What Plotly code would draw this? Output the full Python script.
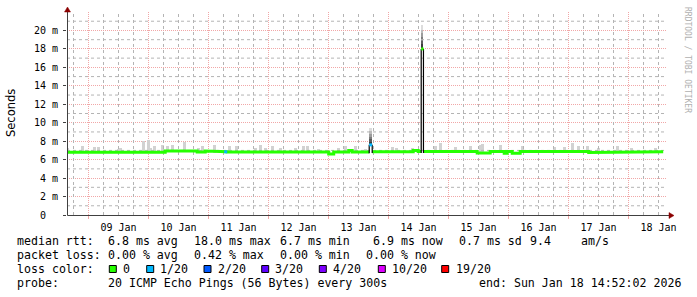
import plotly.graph_objects as go
import pandas as pd

# ---------------- data ----------------
data_t0 = pd.Timestamp("2026-01-08 15:05:00")   # hour offsets below are relative to this
x_start = pd.Timestamp("2026-01-08 15:24:00")
x_end = pd.Timestamp("2026-01-18 15:24:00")

# median rtt, run-length segments (hours from data_t0), value in ms, loss count (of 20)
seg_start = [0.4, 39.6, 52.4, 55.6, 57.6, 63.2, 64.4, 105.0, 107.0, 113.0, 114.4, 121.2,
             122.4, 138.8, 140.8, 142.0, 142.9, 164.4, 169.6, 175.2, 176.4, 178.4, 181.6,
             209.0, 223.0, 227.0, 235.0]
seg_end = [39.6, 52.4, 55.6, 57.6, 63.2, 64.4, 105.0, 107.0, 113.0, 114.4, 121.2, 122.4,
           138.8, 140.8, 142.0, 142.9, 164.4, 169.6, 175.2, 176.4, 178.4, 181.6, 209.0,
           223.0, 227.0, 235.0, 238.8]
seg_median = [6.79, 6.93, 6.83, 6.93, 6.85, 6.85, 6.84, 6.62, 6.84, 7.0, 6.84, 7.6,
              6.86, 7.0, 6.88, 18.0, 6.87, 6.72, 6.88, 6.7, 6.88, 6.7, 6.88,
              6.78, 6.86, 6.78, 6.86]
seg_loss = [0, 0, 0, 0, 0, 1, 0, 0, 0, 0, 0, 1,
            0, 0, 0, 0, 0, 0, 0, 0, 0, 0, 0,
            0, 0, 0, 0]

# light smoke (upper ping rtt) bumps: hour offset and top value in ms
bump_h = [0.4, 6.4, 11.2, 13.0, 20.8, 21.6, 30.8, 32.8, 33.8, 35.2, 38.4, 40.4, 42.4,
          47.2, 52.8, 54.4, 59.2, 65.2, 68.0, 75.6, 77.6, 79.6, 82.4, 85.6, 91.6, 94.8,
          96.4, 100.8, 108.8, 111.6, 115.6, 119.6, 130.4, 132.0, 138.4, 147.6, 149.6,
          155.6, 161.6, 165.6, 166.4, 173.6, 182.4, 195.2, 199.2, 202.4, 204.8, 208.4,
          213.0, 220.4, 226.0, 235.6]
bump_top = [7.28, 7.43, 7.32, 7.32, 7.2, 7.3, 8.0, 8.08, 7.3, 7.53, 7.64, 7.53, 7.64,
            7.9, 7.3, 7.43, 7.64, 7.43, 7.48, 7.3, 7.64, 7.3, 7.43, 7.3, 7.3, 7.46,
            7.46, 7.2, 7.3, 7.53, 7.53, 7.2, 7.35, 7.3, 7.3, 7.43, 7.75,
            7.37, 7.43, 7.64, 7.72, 7.64, 7.53, 7.37, 7.37, 7.8, 7.43, 7.43,
            7.3, 7.53, 7.3, 7.28]

# ping spread during the two spikes (ms)
spike1_pings = [7.7, 7.9, 8.2, 8.5, 8.8, 9.1, 9.4]
spike2_pings = [18.1, 18.5, 18.9, 19.3, 19.7, 20.1, 20.6]

y_tick_vals = [0, 2, 4, 6, 8, 10, 12, 14, 16, 18, 20]
y_tick_text = ["0\u00a0\u00a0", "2\u00a0m", "4\u00a0m", "6\u00a0m", "8\u00a0m", "10\u00a0m",
               "12\u00a0m", "14\u00a0m", "16\u00a0m", "18\u00a0m", "20\u00a0m"]
y_minor_vals = [1, 3, 5, 7, 9, 11, 13, 15, 17, 19, 21]

loss_labels = ["0", "1/20", "2/20", "3/20", "4/20", "10/20", "19/20"]
loss_hex = ["#26ff00", "#00b8ff", "#0059ff", "#5e00ff", "#7e00ff", "#dd00ff", "#ff0000"]
loss_map = {0: "#26ff00", 1: "#00b8ff", 2: "#0059ff", 3: "#5e00ff", 4: "#7e00ff",
            10: "#dd00ff", 19: "#ff0000"}

legend_line1 = [(16, "median rtt:"), (107.3, "6.8 ms avg"), (192.7, "18.0 ms max"),
                (279.3, "6.7 ms min"), (372.3, "6.9 ms now"), (458.3, "0.7 ms sd"),
                (529.3, "9.4"), (580, "am/s")]
legend_line2 = [(16, "packet loss:"), (107.3, "0.00 % avg"), (192.7, "0.42 % max"),
                (279.3, "0.00 % min"), (365.0, "0.00 % now")]
legend_line4 = [(16, "probe:"), (107.3, "20 ICMP Echo Pings (56 Bytes) every 300s"),
                (478.3, "end: Sun Jan 18 14:52:02 2026")]

# ---------------- layout geometry ----------------
W, H = 697, 297
ML, MR, MT, MB = 67, 30, 12, 82
PW, PH = W - ML - MR, H - MT - MB
Y_MAX = 22.0


def px(x):
    return (x - ML) / PW


def py(y):
    return (H - MB - y) / PH


def hx(h):
    return data_t0 + pd.to_timedelta(h, unit="h")


MONO = "DejaVu Sans Mono"
HOUR_MS = 3600 * 1000
MAJ = "rgba(225,60,60,0.45)"
MIN = "#b4b4b4"
DASH = "1px,1px"

fig = go.Figure()

# ---- minor grid as line traces (6-hourly vertical, 1 m horizontal) ----
vx, vy = [], []
for t in pd.date_range("2026-01-08 18:00", "2026-01-18 12:00", freq="6h"):
    if t.hour == 0:
        continue
    vx += [t, t, None]
    vy += [0, Y_MAX, None]
fig.add_trace(go.Scatter(x=vx, y=vy, mode="lines", line=dict(color=MIN, width=1, dash="dot"),
                         hoverinfo="skip", showlegend=False))
hxs, hys = [], []
for v in y_minor_vals:
    hxs += [x_start, x_end, None]
    hys += [v, v, None]
fig.add_trace(go.Scatter(x=hxs, y=hys, mode="lines", line=dict(color=MIN, width=1, dash="dot"),
                         hoverinfo="skip", showlegend=False))

# ---- smoke bumps ----
def median_at(h):
    for s, e, v in zip(seg_start, seg_end, seg_median):
        if s <= h < e:
            return v
    return seg_median[-1]

bases = [median_at(h) - 0.1 for h in bump_h]
fig.add_trace(go.Bar(
    x=[hx(h) for h in bump_h], y=[t - b for t, b in zip(bump_top, bases)], base=bases,
    width=[1.2 * HOUR_MS] * len(bump_h), marker=dict(color="#d2d2d2", line=dict(width=0)),
    hoverinfo="skip", showlegend=False))

# ---- spikes: identify and draw ping spread ----
n = len(seg_start)
is_spike = []
for i in range(n):
    nb = []
    if i > 0:
        nb.append(seg_median[i - 1])
    if i < n - 1:
        nb.append(seg_median[i + 1])
    is_spike.append(seg_median[i] - min(nb) > 0.5)

spike_idx = [i for i in range(n) if is_spike[i]]
for i, pings in zip(spike_idx, [spike1_pings, spike2_pings]):
    s, e = seg_start[i], seg_end[i]
    lows = pings[:-1]
    highs = pings[1:]
    k = len(lows)
    shades = []
    for j in range(k):
        g = int(60 + (220 - 60) * j / max(k - 1, 1))
        shades.append(f"rgb({g},{g},{g})")
    fig.add_trace(go.Bar(
        x=[hx((s + e) / 2)] * k, y=[hi - lo for lo, hi in zip(lows, highs)], base=lows,
        width=[(e - s) * HOUR_MS] * k, marker=dict(color=shades, line=dict(width=0)),
        hoverinfo="skip", showlegend=False))

# ---- median line (green, with gaps at spikes) ----
gx, gy = [], []
for i in range(n):
    if is_spike[i]:
        gx.append(None)
        gy.append(None)
        continue
    gx += [hx(seg_start[i]), hx(seg_end[i])]
    gy += [seg_median[i], seg_median[i]]
fig.add_trace(go.Scatter(x=gx, y=gy, mode="lines", line=dict(color=loss_map[0], width=3),
                         hoverinfo="skip", showlegend=False))

# loss-coloured non-spike segments
for i in range(n):
    if seg_loss[i] != 0 and not is_spike[i]:
        fig.add_trace(go.Scatter(x=[hx(seg_start[i]), hx(seg_end[i])],
                                 y=[seg_median[i], seg_median[i]], mode="lines",
                                 line=dict(color=loss_map[seg_loss[i]], width=3),
                                 hoverinfo="skip", showlegend=False))

# spike edges and median marker
for i in spike_idx:
    s, e, v = seg_start[i], seg_end[i], seg_median[i]
    fig.add_trace(go.Scatter(
        x=[hx(s), hx(s), None, hx(e), hx(e)],
        y=[seg_median[i - 1] - 0.15, v, None, seg_median[i + 1] - 0.15, v],
        mode="lines", line=dict(color="#000000", width=1.2),
        hoverinfo="skip", showlegend=False))
    fig.add_trace(go.Scatter(x=[hx(s), hx(e)], y=[v, v], mode="lines",
                             line=dict(color=loss_map[seg_loss[i]], width=3),
                             hoverinfo="skip", showlegend=False))

fig.update_layout(
    width=W, height=H, margin=dict(l=ML, r=MR, t=MT, b=MB),
    paper_bgcolor="white", plot_bgcolor="white", barmode="overlay", bargap=0,
    showlegend=False,
    xaxis=dict(
        type="date", range=[x_start, x_end], dtick=86400000, tick0="2026-01-09",
        tickformat="%d %b", ticklabelmode="period",
        showgrid=True, gridcolor=MAJ, griddash=DASH, gridwidth=1,
        ticks="outside", ticklen=3, tickcolor=MAJ,
        showline=False, zeroline=False,
        tickfont=dict(family=MONO, size=10, color="#000000"),
    ),
    yaxis=dict(
        range=[0, Y_MAX], tickvals=y_tick_vals, ticktext=y_tick_text,
        showgrid=True, gridcolor=MAJ, griddash=DASH, gridwidth=1,
        ticks="outside", ticklen=3, tickcolor="#404040", ticklabelstandoff=3,
        showline=False, zeroline=False,
        tickfont=dict(family=MONO, size=10, color="#000000"),
    ),
)

shapes = []
AX = "#404040"
ARR = "#8b0000"
# axis lines
shapes.append(dict(type="line", xref="paper", yref="paper", x0=px(67.5), x1=px(669),
                   y0=py(215.5), y1=py(215.5), line=dict(color=AX, width=1)))
shapes.append(dict(type="line", xref="paper", yref="paper", x0=px(67.5), x1=px(67.5),
                   y0=py(215.5), y1=py(10), line=dict(color=AX, width=1)))
# arrows
shapes.append(dict(type="path", xref="paper", yref="paper",
                   path=f"M {px(67.5)} {py(7)} L {px(64.5)} {py(12)} L {px(70.5)} {py(12)} Z",
                   fillcolor=ARR, line=dict(color=ARR, width=0.5)))
shapes.append(dict(type="path", xref="paper", yref="paper",
                   path=f"M {px(674)} {py(215.5)} L {px(669)} {py(212.5)} L {px(669)} {py(218.5)} Z",
                   fillcolor=ARR, line=dict(color=ARR, width=0.5)))

annotations = []


def add_text(x, y, text, size=11.6, family=MONO, color="#000000", angle=0,
             xanchor="left"):
    annotations.append(dict(
        xref="paper", yref="paper", x=px(x), y=py(y), text=text.replace(" ", "\u00a0"),
        showarrow=False, xanchor=xanchor, yanchor="middle", textangle=angle,
        borderpad=0, font=dict(family=family, size=size, color=color)))


for x, t in legend_line1:
    add_text(x, 241, t)
for x, t in legend_line2:
    add_text(x, 255, t)
add_text(16, 269, "loss color:")
sq_x = [109.3, 146.7, 204.0, 261.7, 319.3, 378.3, 441.7]
lbl_x = [121.7, 159.0, 216.7, 274.0, 331.7, 391.0, 455.0]
for sx, lx, lab, col in zip(sq_x, lbl_x, loss_labels, loss_hex):
    shapes.append(dict(type="rect", xref="paper", yref="paper", x0=px(sx), x1=px(sx + 7),
                       y0=py(272.5), y1=py(265.5), fillcolor=col,
                       line=dict(color="#000000", width=1)))
    add_text(lx, 269, lab)
for x, t in legend_line4:
    add_text(x, 283, t)

# y axis title
add_text(11, 113, "Seconds", size=11.5, family="DejaVu Sans", angle=-90, xanchor="center")
# watermark
add_text(688, 60, "RRDTOOL / TOBI OETIKER", size=8, color="#b0b0b0", angle=90,
         xanchor="center")

fig.update_layout(shapes=shapes, annotations=annotations)
fig.write_html("out.html")
